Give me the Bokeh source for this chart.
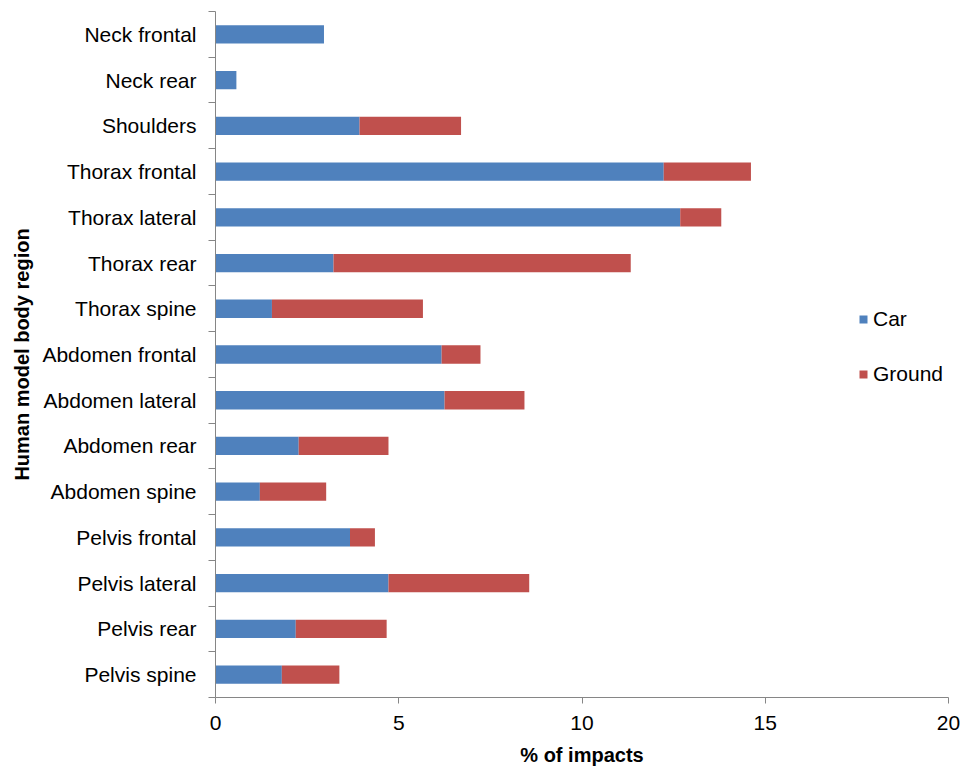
from bokeh.plotting import figure
from bokeh.models import ColumnDataSource, Range1d, FixedTicker, Legend, LegendItem
from bokeh.embed import file_html
from bokeh.resources import INLINE

regions = ["Neck frontal", "Neck rear", "Shoulders", "Thorax frontal", "Thorax lateral",
           "Thorax rear", "Thorax spine", "Abdomen frontal", "Abdomen lateral", "Abdomen rear",
           "Abdomen spine", "Pelvis frontal", "Pelvis lateral", "Pelvis rear", "Pelvis spine"]
car = [2.96, 0.57, 3.93, 12.23, 12.68, 3.22, 1.54, 6.17, 6.25, 2.27, 1.21, 3.67, 4.72, 2.19, 1.81]
ground = [0.0, 0.0, 2.77, 2.38, 1.12, 8.11, 4.12, 1.06, 2.18, 2.45, 1.81, 0.68, 3.84, 2.48, 1.57]
x_ticks = [0, 5, 10, 15, 20]

n = len(regions)
ypos = [n - 0.5 - i for i in range(n)]
source = ColumnDataSource(dict(y=ypos, car=car, ground=ground))

FONT = "Liberation Sans"
AXIS_COL = "#868686"

p = figure(width=960, height=769, output_backend="svg", toolbar_location=None,
           x_range=Range1d(0, 20), y_range=Range1d(0, n),
           min_border_left=215, min_border_right=12, min_border_top=11, min_border_bottom=72)
p.outline_line_color = None
p.xgrid.visible = False
p.ygrid.visible = False

renderers = p.hbar_stack(["car", "ground"], y="y", height=0.4, source=source,
                         fill_color=["#4F81BD", "#C0504D"], line_color=None)

# x axis
xa = p.xaxis[0]
xa.ticker = FixedTicker(ticks=x_ticks)
xa.axis_label = "% of impacts"
xa.axis_label_text_font = FONT
xa.axis_label_text_font_style = "bold"
xa.axis_label_text_font_size = "20px"
xa.axis_label_text_color = "#000000"
xa.axis_label_standoff = 11
xa.major_label_text_font = FONT
xa.major_label_text_font_size = "21px"
xa.major_label_text_color = "#000000"
xa.major_label_standoff = 12
xa.major_tick_in = 0
xa.major_tick_out = 6
xa.minor_tick_out = 0
xa.minor_tick_in = 0
xa.axis_line_color = AXIS_COL
xa.major_tick_line_color = AXIS_COL

# y axis: labels at centres, ticks at boundaries
ya = p.yaxis[0]
ya.ticker = FixedTicker(ticks=ypos, minor_ticks=list(range(0, n + 1)))
ya.major_label_overrides = {y: r for y, r in zip(ypos, regions)}
ya.axis_label = "Human model body region"
ya.axis_label_text_font = FONT
ya.axis_label_text_font_style = "bold"
ya.axis_label_text_font_size = "20px"
ya.axis_label_text_color = "#000000"
ya.axis_label_standoff = 6
ya.major_label_text_font = FONT
ya.major_label_text_font_size = "21px"
ya.major_label_text_color = "#000000"
ya.major_label_standoff = 12
ya.major_tick_in = 0
ya.major_tick_out = 0
ya.minor_tick_in = 0
ya.minor_tick_out = 7
ya.axis_line_color = AXIS_COL
ya.minor_tick_line_color = AXIS_COL

legend = Legend(items=[LegendItem(label="Car", renderers=[renderers[0]]),
                       LegendItem(label="Ground", renderers=[renderers[1]])],
                location=(643, 311))
legend.label_text_font = FONT
legend.label_text_font_size = "21px"
legend.label_text_color = "#000000"
legend.glyph_width = 10
legend.glyph_height = 10
legend.label_standoff = 5
legend.label_height = 20
legend.spacing = 31
legend.padding = 0
legend.margin = 0
legend.border_line_color = None
legend.background_fill_alpha = 0
p.add_layout(legend)

open("out.html", "w").write(file_html(p, INLINE))
